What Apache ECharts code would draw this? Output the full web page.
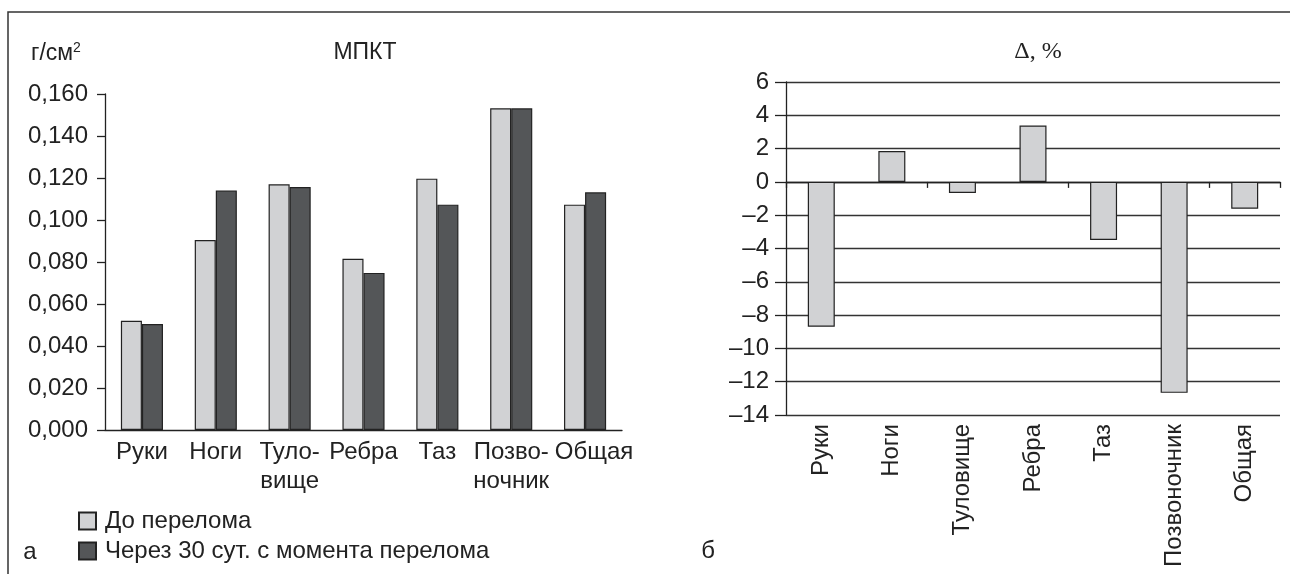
<!DOCTYPE html>
<html>
<head>
<meta charset="utf-8">
<script src="https://cdn.jsdelivr.net/npm/echarts@6/dist/echarts.min.js"></script>
<style>
  html, body { margin: 0; padding: 0; background: #fff; }
  #chart { width: 1290px; height: 574px; }
</style>
</head>
<body>
<div id="chart"></div>
<script>
// панель а: МПКТ, г/см2
var partsA = ['Руки', 'Ноги', 'Туло-\nвище', 'Ребра', 'Таз', 'Позво-\nночник', 'Общая'];
var beforeVals = [0.052, 0.0905, 0.117, 0.0815, 0.1197, 0.1532, 0.1073];
var afterVals = [0.0505, 0.114, 0.1157, 0.0748, 0.1073, 0.1532, 0.1132];
var seriesNames = ['До перелома', 'Через 30 сут. с момента перелома'];

// панель б: изменение, %
var partsB = ['Руки', 'Ноги', 'Туловище', 'Ребра', 'Таз', 'Позвоночник', 'Общая'];
var deltaVals = [-8.7, 1.85, -0.67, 3.39, -3.49, -12.67, -1.61];

var ink = '#222';
var font = '"Liberation Sans", Arial, sans-serif';
var fs = 24;

var chart = echarts.init(document.getElementById('chart'));

var gridB = {left: 786, right: 10, top: 82, bottom: 159};

chart.setOption({
    backgroundColor: '#fff',
    textStyle: {fontFamily: font, color: ink},
    animation: false,
    grid: [
        {left: 105, right: 668, top: 94, bottom: 144},
        gridB,
        // та же область — только для оси на нуле с рисками
        gridB
    ],
    legend: {
        data: seriesNames,
        orient: 'vertical',
        left: 78, top: 508,
        padding: 0,
        itemWidth: 17, itemHeight: 17, itemGap: 4,
        icon: 'rect',
        textStyle: {fontSize: fs, lineHeight: 26, color: ink, fontFamily: font, padding: [0, 0, 0, 4]}
    },
    xAxis: [
        {
            gridIndex: 0, type: 'category', data: partsA,
            axisLine: {lineStyle: {color: ink, width: 1.3}},
            axisTick: {length: 7, lineStyle: {color: ink, width: 1.3}},
            axisLabel: {
                interval: 0, fontSize: fs, color: ink, margin: 8, lineHeight: 29,
                // последняя подпись в оригинале сдвинута вправо
                formatter: function (v, i) { return i === partsA.length - 1 ? '{r|' + v + '}' : v; },
                rich: {r: {fontSize: fs, color: ink, lineHeight: 29, padding: [0, 0, 0, 18]}}
            }
        },
        {
            gridIndex: 1, type: 'category', data: partsB, position: 'bottom',
            axisLine: {show: false, onZero: false},
            axisTick: {show: false},
            axisLabel: {interval: 0, rotate: 90, fontSize: fs, color: ink, margin: 9}
        },
        {
            gridIndex: 2, type: 'category', data: partsB, position: 'bottom',
            axisLine: {show: true, onZero: true, lineStyle: {color: ink, width: 1.3}},
            axisTick: {show: true, length: 6, lineStyle: {color: ink, width: 1.3}},
            axisLabel: {show: false}
        }
    ],
    yAxis: [
        {
            gridIndex: 0, type: 'value', min: 0, max: 0.16, interval: 0.02,
            axisLine: {show: true, lineStyle: {color: ink, width: 1.3}},
            axisTick: {show: true, length: 8, lineStyle: {color: ink, width: 1.3}},
            splitLine: {show: false},
            axisLabel: {
                fontSize: fs, color: ink, margin: 17,
                formatter: function (v) { return v.toFixed(3).replace('.', ','); }
            }
        },
        {
            gridIndex: 1, type: 'value', min: -14, max: 6, interval: 2,
            axisLine: {show: true, lineStyle: {color: ink, width: 1.3}},
            axisTick: {show: true, length: 11, lineStyle: {color: ink, width: 1.3}},
            splitLine: {show: true, lineStyle: {color: '#333', width: 1.3}},
            axisLabel: {
                fontSize: fs, color: ink, margin: 17,
                formatter: function (v) { return v < 0 ? '\u2013' + Math.abs(v) : String(v); }
            }
        },
        {
            gridIndex: 2, type: 'value', min: -14, max: 6, interval: 2,
            axisLine: {show: false}, axisTick: {show: false},
            axisLabel: {show: false}, splitLine: {show: false}
        }
    ],
    series: [
        {
            name: seriesNames[0], type: 'bar', xAxisIndex: 0, yAxisIndex: 0,
            data: beforeVals, barGap: '0%', barCategoryGap: '43%',
            itemStyle: {color: '#d1d2d4', borderColor: ink, borderWidth: 1.2}
        },
        {
            name: seriesNames[1], type: 'bar', xAxisIndex: 0, yAxisIndex: 0,
            data: afterVals, barGap: '0%', barCategoryGap: '43%',
            itemStyle: {color: '#545658', borderColor: ink, borderWidth: 1.2}
        },
        {
            name: 'Δ', type: 'bar', xAxisIndex: 1, yAxisIndex: 1,
            data: deltaVals, barWidth: 27,
            itemStyle: {color: '#d1d2d4', borderColor: ink, borderWidth: 1.2}
        }
    ],
    graphic: [
        {type: 'rect', shape: {x: 8, y: 12, width: 1300, height: 600},
            style: {fill: 'none', stroke: '#333', lineWidth: 1.5}, silent: true},
        {type: 'text', x: 365, y: 53, style: {text: 'МПКТ', font: '23px ' + font, fill: ink,
            textAlign: 'center', textVerticalAlign: 'middle'}},
        {type: 'text', x: 31, y: 54, style: {
            text: 'г/см{s|2}', font: '23px ' + font, fill: ink, textVerticalAlign: 'middle',
            rich: {s: {fontSize: 14, verticalAlign: 'top', padding: [0, 0, 12, 0]}}
        }},
        {type: 'text', x: 1038, y: 52, style: {text: 'Δ, %', font: '24px "Liberation Serif", serif', fill: ink,
            textAlign: 'center', textVerticalAlign: 'middle'}},
        {type: 'text', x: 30, y: 552, style: {text: 'а', font: fs + 'px ' + font, fill: ink,
            textAlign: 'center', textVerticalAlign: 'middle'}},
        {type: 'text', x: 708, y: 551, style: {text: 'б', font: fs + 'px ' + font, fill: ink,
            textAlign: 'center', textVerticalAlign: 'middle'}}
    ]
});
</script>
</body>
</html>
